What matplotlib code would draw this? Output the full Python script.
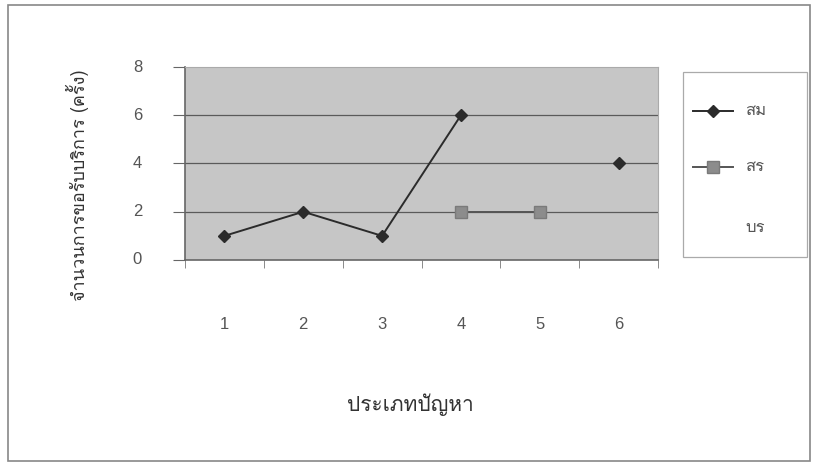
import matplotlib
matplotlib.use("Agg")
import matplotlib.pyplot as plt
from matplotlib import font_manager
from matplotlib.ft2font import FT2Font
from matplotlib.lines import Line2D
import numpy as np

# look for any installed font that has Thai glyphs
thai_fonts = []
for f in font_manager.fontManager.ttflist:
    try:
        if 0x0E01 in FT2Font(f.fname).get_charmap():
            thai_fonts.append(f.name)
    except Exception:
        pass
families = list(dict.fromkeys(thai_fonts)) + ['DejaVu Sans']
plt.rcParams['font.family'] = families

categories = ['1', '2', '3', '4', '5', '6']
y_ticks = [0, 2, 4, 6, 8]
series_som = [1, 2, 1, 6, None, 4]
series_sor = [None, None, None, 2, 2, None]
series_bor = [None, None, None, None, None, None]
series_names = ['สม', 'สร', 'บร']
y_label = 'จำนวนการขอรับบริการ (ครั้ง)'
x_label = 'ประเภทปัญหา'

def to_arr(v):
    return np.array([np.nan if a is None else a for a in v], dtype=float)

W, H = 813, 465
fig = plt.figure(figsize=(W/100, H/100), dpi=100)
ax_l, ax_r, ax_t, ax_b = 185, 658, 67, 260
ax = fig.add_axes([ax_l/W, 1-ax_b/H, (ax_r-ax_l)/W, (ax_b-ax_t)/H])
ax.set_facecolor('#c6c6c6')

styles = [
    dict(color='#2b2b2b', lw=1.4, marker='D', ms=6.5, mfc='#2b2b2b', mec='#2b2b2b'),
    dict(color='#555555', lw=1.4, marker='s', ms=8.5, mfc='#8c8c8c', mec='#7a7a7a'),
    dict(color='none'),
]

x = np.arange(len(categories))
for vals, st in zip([series_som, series_sor, series_bor], styles):
    ax.plot(x, to_arr(vals), **st)

ax.set_xlim(-0.5, len(categories) - 0.5)
ax.set_ylim(0, 8)
ax.set_yticks(y_ticks)
ax.set_yticklabels([])
for yv in y_ticks[1:-1]:
    ax.axhline(yv, color='#5a5a5a', lw=0.9, zorder=0.5)

# y tick labels placed further out, like the original
digit_font = ['Liberation Sans', 'DejaVu Sans']
for yv in y_ticks:
    ax.text(-(ax_l-142)/(ax_r-ax_l), yv, str(yv), transform=ax.get_yaxis_transform(),
            ha='right', va='center', fontsize=12, color='#555555', family=digit_font)

ax.set_xticks(x)
ax.set_xticklabels(categories, family=digit_font)
ax.set_xticks(np.arange(-0.5, len(categories)), minor=True)
ax.tick_params(axis='x', which='major', length=0, pad=41, labelsize=12, labelcolor='#555555')
ax.tick_params(axis='x', which='minor', length=6, color='#777777', direction='out')
ax.tick_params(axis='y', length=9, color='#666666')

for s in ['left', 'bottom']:
    ax.spines[s].set_color('#666666')
    ax.spines[s].set_linewidth(1.2)
for s in ['top', 'right']:
    ax.spines[s].set_color('#aaaaaa')
    ax.spines[s].set_linewidth(0.8)

fig.text(77/W, 1-185/H, y_label, rotation=90, ha='center', va='center',
         fontsize=13, color='#333333')
fig.text(410/W, 1-405/H, x_label, ha='center', va='center',
         fontsize=15, color='#333333')

# legend box drawn by hand
fig.patches.append(plt.Rectangle((683/W, 1-257/H), 124/W, 185/H, transform=fig.transFigure,
                                 fill=False, edgecolor='#aaaaaa', lw=0.9))
entry_y = [111, 167, 228]
for name, st, yy in zip(series_names, styles, entry_y):
    fig.add_artist(Line2D([693/W, 733/W], [1-yy/H, 1-yy/H], transform=fig.transFigure,
                          color=st['color'], lw=st.get('lw', 1)))
    if 'marker' in st:
        fig.add_artist(Line2D([713/W], [1-yy/H], transform=fig.transFigure, ls='none',
                              marker=st['marker'], ms=st['ms'], mfc=st['mfc'], mec=st['mec']))
    fig.text(745/W, 1-yy/H, name, ha='left', va='center', fontsize=12, color='#555555')

# outer frame
fig.patches.append(plt.Rectangle((8/W, 1-461/H), 802/W, 456/H, transform=fig.transFigure,
                                 fill=False, edgecolor='#888888', lw=1.2))

fig.savefig('out.png', dpi=100)
